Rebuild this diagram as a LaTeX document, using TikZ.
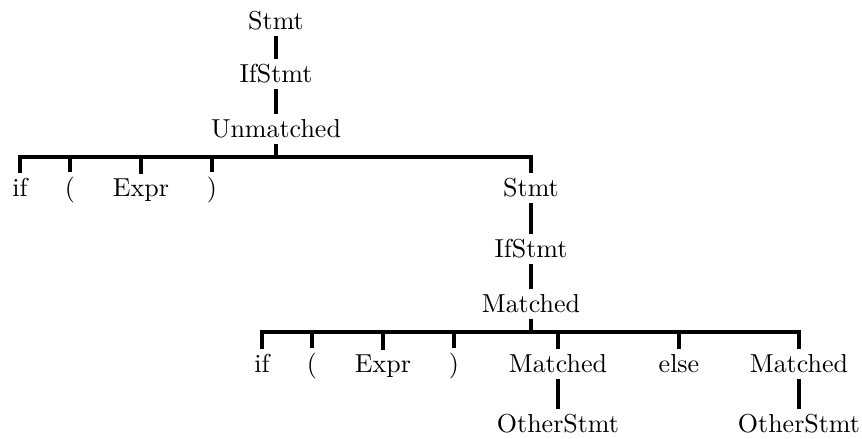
\documentclass[tikz,border=0pt]{standalone}
\tikzset{
  cat/.style={anchor=base, inner xsep=1pt, inner ysep=2pt},
  branch/.style={very thick},
}
\begin{document}
\begin{tikzpicture}[x=0.385pt, y=-0.385pt]
\useasboundingbox (0,0) rectangle (862,439);
% upper spine
\node[cat] (stmtA) at (276,30) {Stmt};
\node[cat] (ifA) at (276,83) {IfStmt};
\node[cat] (unm) at (276,138) {Unmatched};
% children of Unmatched
\node[cat] (kwifA) at (20,197) {if};
\node[cat] (lpA) at (70,197) {(};
\node[cat] (exA) at (141,197) {Expr};
\node[cat] (rpA) at (212,197) {)};
\node[cat] (stmtB) at (531,197) {Stmt};
% lower spine
\node[cat] (ifB) at (531,258) {IfStmt};
\node[cat] (mat) at (531,313) {Matched};
% children of Matched
\node[cat] (kwifB) at (262,373) {if};
\node[cat] (lpB) at (312,373) {(};
\node[cat] (exB) at (383,373) {Expr};
\node[cat] (rpB) at (454,373) {)};
\node[cat] (matL) at (558,373) {Matched};
\node[cat] (kwelse) at (679,373) {else};
\node[cat] (matR) at (799,373) {Matched};
\node[cat] (othL) at (558,433) {OtherStmt};
\node[cat] (othR) at (799,433) {OtherStmt};
% bar levels
\coordinate (barA) at (0,157);
\coordinate (barB) at (0,332);
% edges
\draw[branch] (stmtA.south) -- (ifA.north);
\draw[branch] (ifA.south) -- (unm.north);
\foreach \c in {kwifA,lpA,exA,rpA,stmtB}
  \draw[branch] (unm.south) -- (unm.south |- barA) -| (\c.north);
\draw[branch] (stmtB.south) -- (ifB.north);
\draw[branch] (ifB.south) -- (mat.north);
\foreach \c in {kwifB,lpB,exB,rpB,matL,kwelse,matR}
  \draw[branch] (mat.south) -- (mat.south |- barB) -| (\c.north);
\draw[branch] (matL.south) -- (othL.north);
\draw[branch] (matR.south) -- (othR.north);
\end{tikzpicture}
\end{document}
